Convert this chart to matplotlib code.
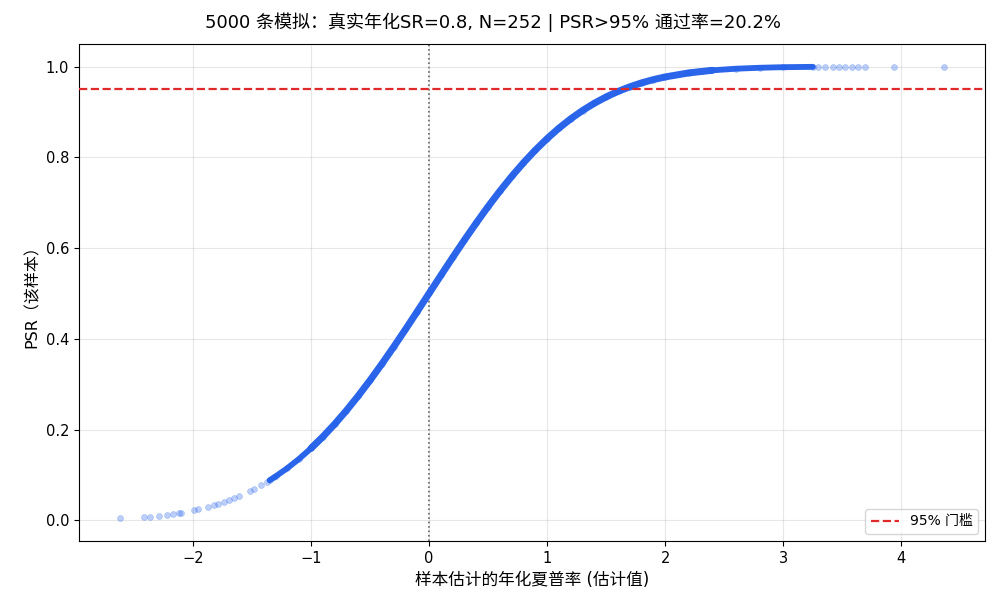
import numpy as np
import matplotlib
matplotlib.use('Agg')
import matplotlib.pyplot as plt

plt.rcParams['font.family'] = ['DejaVu Sans', 'Noto Sans CJK SC']

# dense part of the cloud
band_sr = [-1.35, -1.3, -1.2, -1.1, -1.0, -0.9, -0.8, -0.7, -0.6, -0.5,
           -0.4, -0.3, -0.2, -0.1, 0.0, 0.1, 0.2, 0.3, 0.4, 0.5,
           0.6, 0.7, 0.8, 0.9, 1.0, 1.1, 1.2, 1.3, 1.4, 1.5,
           1.6, 1.7, 1.8, 1.9, 2.0, 2.2, 2.4, 2.6, 2.8, 3.0, 3.25]
band_psr = [0.0885, 0.0968, 0.1151, 0.1357, 0.1587, 0.1841, 0.2119, 0.2420,
            0.2743, 0.3085, 0.3446, 0.3821, 0.4207, 0.4602, 0.5000, 0.5398,
            0.5793, 0.6179, 0.6554, 0.6915, 0.7257, 0.7580, 0.7881, 0.8159,
            0.8413, 0.8643, 0.8849, 0.9032, 0.9192, 0.9332, 0.9452, 0.9554,
            0.9641, 0.9713, 0.9772, 0.9861, 0.9918, 0.9953, 0.9974, 0.9987,
            0.9994]

# sparse tail points
tail_sr = [-2.616, -2.41, -2.36, -2.285, -2.22, -2.17, -2.12, -2.10, -1.99,
           -1.955, -1.875, -1.82, -1.79, -1.735, -1.69, -1.65, -1.61, -1.52,
           -1.48, -1.42, -1.37, -1.31,
           3.29, 3.35, 3.42, 3.47, 3.52, 3.58, 3.63, 3.69, 3.94, 4.36]
tail_psr = [0.0044, 0.0074, 0.0083, 0.0098, 0.0120, 0.0136, 0.0160, 0.0170,
            0.0233, 0.0253, 0.0301, 0.0344, 0.0367, 0.0414, 0.0455, 0.0495,
            0.0537, 0.0643, 0.0694, 0.0778, 0.0853, 0.0951,
            0.9995, 0.9996, 0.9997, 0.9997, 0.9998, 0.9998, 0.9999, 0.9999,
            1.0, 1.0]

threshold = 0.95
blue = '#2a65ea'

fig, ax = plt.subplots(figsize=(9.97, 6.11), dpi=100)
plt.subplots_adjust(left=0.0792, right=0.988, top=0.928, bottom=0.1146)

# core of the band is thick, the thinner ends taper off
ax.plot(band_sr[4:37], band_psr[4:37], color=blue, lw=5,
        solid_capstyle='round', zorder=2)
ax.plot(band_sr[:6], band_psr[:6], color=blue, lw=4.2,
        solid_capstyle='round', zorder=2)
ax.plot(band_sr[35:], band_psr[35:], color=blue, lw=4.2,
        solid_capstyle='round', zorder=2)
ax.scatter(band_sr + tail_sr, band_psr + tail_psr, s=18, color='#2563eb',
           alpha=0.3, linewidths=0.5, zorder=2)

ax.axhline(threshold, color='#e02a2a', ls='--', lw=1.6, label='95% 门槛', zorder=3)
ax.axvline(0, color='#555555', ls=':', lw=1.2, zorder=1)

ax.grid(True, alpha=0.3)
ax.tick_params(labelsize=10.5)
ax.set_xlabel('样本估计的年化夏普率 (估计值)', fontsize=12)
ax.set_ylabel('PSR（该样本）', fontsize=11.5)
fig.suptitle('5000 条模拟：真实年化SR=0.8, N=252 | PSR>95% 通过率=20.2%',
             fontsize=13, x=0.494, y=1 - 22 / 611, va='center')
ax.legend(loc='lower right', fontsize=10)

plt.savefig('out.png', dpi=100)
